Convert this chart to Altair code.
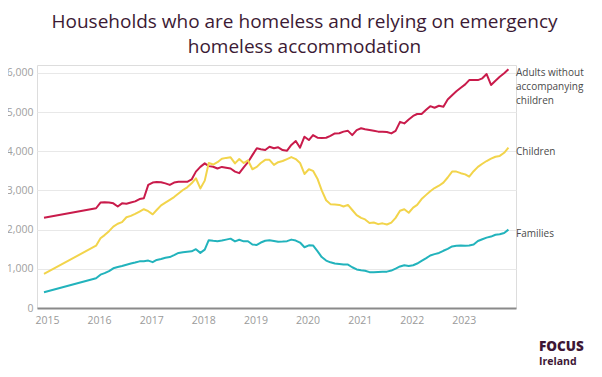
import altair as alt
import pandas as pd

# ---- data ----
first_month = ["2015-01-01"]
monthly_start, monthly_end = "2016-01-01", "2023-12-01"

adults_first = [2300]
adults = [
    2545, 2690, 2700, 2690, 2670, 2590, 2670, 2660, 2690, 2720, 2780, 2800,   # 2016
    3140, 3200, 3215, 3210, 3180, 3140, 3200, 3220, 3220, 3220, 3280, 3480,   # 2017
    3600, 3690, 3620, 3605, 3560, 3600, 3580, 3560, 3480, 3440, 3590, 3720,   # 2018
    3900, 4075, 4050, 4030, 4115, 4075, 4100, 4030, 4015, 4160, 4260, 4090,   # 2019
    4370, 4285, 4410, 4345, 4340, 4345, 4390, 4455, 4460, 4500, 4520, 4410,   # 2020
    4540, 4585, 4560, 4540, 4520, 4500, 4500, 4490, 4455, 4520, 4750, 4710,   # 2021
    4810, 4900, 4950, 4950, 5050, 5150, 5110, 5160, 5135, 5320, 5430, 5530,   # 2022
    5620, 5705, 5815, 5815, 5815, 5860, 5970, 5690, 5800, 5900, 5990, 6090,   # 2023
]
children_first = [870]
children = [
    1590, 1780, 1860, 1960, 2075, 2150, 2190, 2315, 2350, 2400, 2460, 2520,   # 2016
    2470, 2390, 2500, 2620, 2690, 2760, 2830, 2920, 3010, 3080, 3180, 3310,   # 2017
    3050, 3250, 3700, 3660, 3720, 3810, 3830, 3845, 3690, 3800, 3700, 3770,   # 2018
    3540, 3600, 3700, 3780, 3780, 3650, 3720, 3750, 3800, 3850, 3800, 3700,   # 2019
    3420, 3540, 3500, 3300, 3000, 2750, 2650, 2640, 2630, 2590, 2630, 2500,   # 2020
    2370, 2300, 2260, 2170, 2180, 2140, 2160, 2130, 2180, 2300, 2480, 2520,   # 2021
    2430, 2560, 2630, 2780, 2880, 2980, 3060, 3120, 3200, 3330, 3480, 3480,   # 2022
    3440, 3410, 3350, 3490, 3600, 3680, 3750, 3810, 3860, 3880, 3960, 4090,   # 2023
]
families_first = [400]
families = [
    760, 850, 890, 940, 1013, 1045, 1070, 1105, 1135, 1160, 1190, 1195,       # 2016
    1210, 1170, 1225, 1250, 1280, 1300, 1350, 1405, 1425, 1435, 1445, 1500,   # 2017
    1407, 1490, 1730, 1715, 1703, 1720, 1745, 1770, 1700, 1740, 1700, 1705,   # 2018
    1620, 1610, 1670, 1715, 1729, 1710, 1688, 1695, 1705, 1745, 1721, 1670,   # 2019
    1550, 1600, 1595, 1450, 1300, 1210, 1165, 1135, 1120, 1107, 1107, 1040,   # 2020
    985, 965, 950, 915, 915, 920, 925, 928, 955, 1005, 1060, 1090,            # 2021
    1070, 1090, 1135, 1200, 1265, 1340, 1375, 1405, 1460, 1510, 1570, 1590,   # 2022
    1595, 1590, 1595, 1620, 1710, 1755, 1795, 1823, 1870, 1880, 1915, 2000,   # 2023
]

series_names = ["Adults", "Children", "Families"]
series_labels = ["Adults without\naccompanying\nchildren", "Children", "Families"]
series_colors = ["#C91B4B", "#F2D44B", "#22B3BC"]
year_ticks = [f"{y}-01-01" for y in range(2015, 2024)]
y_ticks = [0, 1000, 2000, 3000, 4000, 5000, 6000]
title_lines = ["Households who are homeless and relying on emergency",
               "homeless accommodation"]

# ---- build table ----
months = first_month + [d.strftime("%Y-%m-%d") for d in pd.date_range(monthly_start, monthly_end, freq="MS")]
rows = []
for name, first, vals in zip(series_names,
                             [adults_first, children_first, families_first],
                             [adults, children, families]):
    for m, v in zip(months, first + vals):
        rows.append({"date": m, "value": v, "series": name})
df = pd.DataFrame(rows)

last = pd.DataFrame({
    "series": series_names,
    "label": series_labels,
    "value": [adults[-1], children[-1], families[-1]],
})

W, H = 479, 243
x_scale = alt.Scale(domain=["2014-11-13", "2024-01-23"], nice=False)
y_scale = alt.Scale(domain=[0, 6200], nice=False)
color_scale = alt.Scale(domain=series_names, range=series_colors)

lines = alt.Chart(df).mark_line(strokeWidth=2, strokeJoin="round").encode(
    x=alt.X("date:T", scale=x_scale,
            axis=alt.Axis(values=year_ticks, format="%Y", title=None, grid=False,
                          domain=True, domainColor="#8a8a8a", domainWidth=2,
                          ticks=False, labelPadding=7, labelOffset=3,
                          labelColor="#9a9a9a", labelFontSize=10.5,
                          labelFont="Open Sans")),
    y=alt.Y("value:Q", scale=y_scale,
            axis=alt.Axis(values=y_ticks, format=",.0f", title=None,
                          domain=False, ticks=False,
                          grid=True, gridColor="#e8e8e8", gridWidth=1,
                          labelPadding=4, labelColor="#a0a0a0",
                          labelFontSize=10.5, labelFont="Open Sans")),
    color=alt.Color("series:N", scale=color_scale, legend=None),
    detail="series:N",
)

labels = alt.Chart(last).mark_text(
    align="left", baseline="top", dy=-1, lineBreak="\n", lineHeight=14,
    fontSize=10, font="Open Sans", color="#4a4a4a"
).encode(
    x=alt.value(W),
    y=alt.Y("value:Q", scale=y_scale),
    text="label:N",
)

logo_words = pd.DataFrame({"t": ["FOCUS", "Ireland"]})
logo_focus = alt.Chart(logo_words).transform_filter("datum.t == 'FOCUS'").mark_text(
    align="left", baseline="alphabetic", fontSize=13.5, fontWeight=900,
    font="Open Sans", color="#3D1635"
).encode(x=alt.value(502), y=alt.value(286), text="t:N")
logo_ireland = alt.Chart(logo_words).transform_filter("datum.t == 'Ireland'").mark_text(
    align="left", baseline="alphabetic", fontSize=10.5, fontWeight=700,
    font="Open Sans", color="#3D1635"
).encode(x=alt.value(502), y=alt.value(300), text="t:N")

chart = alt.layer(lines, labels, logo_focus, logo_ireland).properties(
    width=W, height=H,
    autosize=alt.AutoSizeParams(type="none"),
    padding={"left": 29, "top": 57, "right": 78, "bottom": 61},
    title=alt.TitleParams(text=title_lines, anchor="middle", dx=28, offset=8,
                          fontSize=19, fontWeight="normal", font="Open Sans",
                          color="#3C1A34", lineHeight=25),
).configure_view(stroke=None).configure(background="white")

chart.save("out.html", embed_options={"renderer": "svg", "actions": False})
